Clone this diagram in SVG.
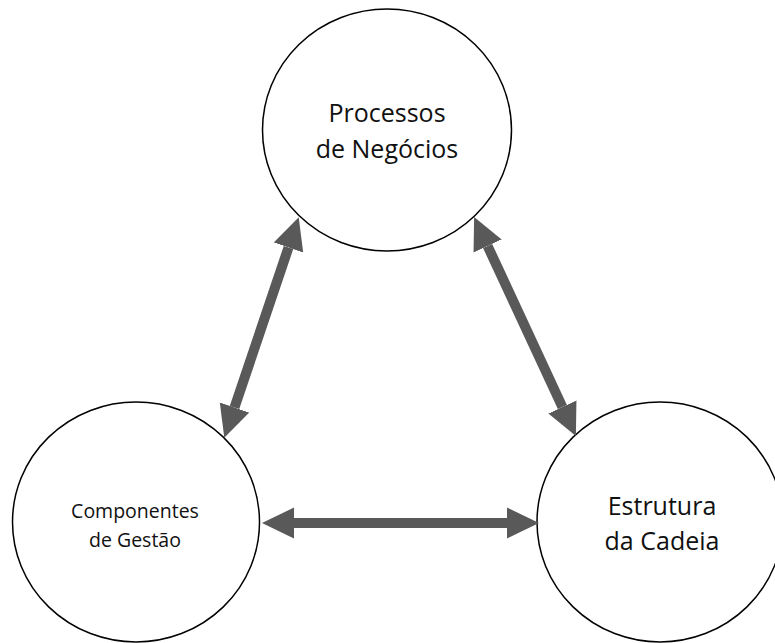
<svg xmlns="http://www.w3.org/2000/svg" width="775" height="643" viewBox="0 0 775 643">
  <style>
    .node { fill: #ffffff; stroke: #000000; stroke-width: 1.5; }
    .lbl { font-family: "Open Sans", "Liberation Sans", sans-serif; fill: #111111; text-anchor: middle; }
    .big { font-size: 25px; }
    .small { font-size: 19.5px; }
    .conn { stroke: #595959; stroke-width: 10; fill: none; marker-start: url(#head); marker-end: url(#head); }
  </style>
  <defs>
    <marker id="head" markerUnits="userSpaceOnUse" markerWidth="32" markerHeight="32" refX="0" refY="15" orient="auto-start-reverse" viewBox="0 0 31 30">
      <path d="M0,0 L31,15 L0,30 Z" fill="#595959"/>
    </marker>
  </defs>
  <rect width="775" height="643" fill="#ffffff"/>
  <g id="node-processos">
    <ellipse class="node" cx="387" cy="130" rx="124.5" ry="121"/>
    <text class="lbl big" x="387" y="122">Processos</text>
    <text class="lbl big" x="387" y="158">de Negócios</text>
  </g>
  <g id="node-componentes">
    <ellipse class="node" cx="136" cy="522" rx="123.5" ry="120"/>
    <text class="lbl small" x="135" y="518">Componentes</text>
    <text class="lbl small" x="135" y="547">de Gestão</text>
  </g>
  <g id="node-estrutura">
    <ellipse class="node" cx="660" cy="522" rx="123" ry="120"/>
    <text class="lbl big" x="662" y="515">Estrutura</text>
    <text class="lbl big" x="662" y="550">da Cadeia</text>
  </g>
  <g id="connectors">
    <line class="conn" x1="288.5" y1="247.5" x2="234.5" y2="407.5"/>
    <line class="conn" x1="487.6" y1="246" x2="562.4" y2="407"/>
    <line class="conn" x1="294" y1="523" x2="507" y2="523"/>
  </g>
</svg>
